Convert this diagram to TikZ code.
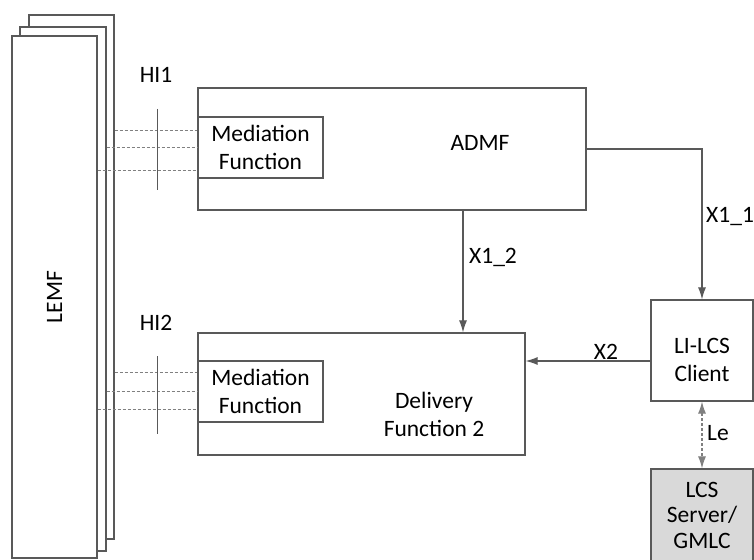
\documentclass[tikz,border=0pt]{standalone}
\usepackage{fontspec}
\setmainfont{Carlito}
\usepackage{xcolor}
\usepackage{tikz}
\usetikzlibrary{arrows.meta}
\definecolor{lineC}{HTML}{595959}
\definecolor{dashC}{HTML}{808080}
\definecolor{srvC}{HTML}{D9D9D9}

\begin{document}
\begin{tikzpicture}[x=1pt, y=-1pt,
    every node/.style={font=\fontsize{23.5}{28}\selectfont},
    box/.style={draw=lineC, line width=1.2pt, fill=white, inner sep=0pt, align=center},
    lbl/.style={inner sep=0pt, align=center},
    arr/.style={draw=lineC, line width=1.1pt, -{Latex[length=12pt,width=8pt]}},
    hiline/.style={draw=dashC, line width=1pt, dash pattern=on 3pt off 2pt},
    bar/.style={draw=lineC, line width=1pt}]
    \useasboundingbox (0,0) rectangle (754,559);
    % LEMF stack
    \node (lemfC) at (71.5,277) [box, minimum width=85pt, minimum height=524pt] {};
    \node (lemfB) at (63,289) [box, minimum width=86pt, minimum height=524pt] {};
    \node (lemfA) at (54.5,297) [box, minimum width=85pt, minimum height=522pt] {};
    \node (lemf) at (lemfA) [lbl, rotate=90] {LEMF};
    % ADMF and Delivery Function
    \node (admf) at (392,149) [box, minimum width=388pt, minimum height=122pt] {};
    \node (admfT) at (480,143) [lbl] {ADMF};
    \node (med1) at (260.5,147.5) [box, minimum width=125pt, minimum height=61pt] {Mediation\\Function};
    \node (dlv) at (361.5,394) [box, minimum width=327pt, minimum height=122pt] {};
    \node (dlvT) at (434,414) [lbl] {Delivery\\Function 2};
    \node (med2) at (260.5,391.5) [box, minimum width=125pt, minimum height=61pt] {Mediation\\Function};
    % LI-LCS side
    \node (lics) at (702,350.5) [box, minimum width=102pt, minimum height=101pt] {};
    \node (licsT) at (702,360) [lbl] {LI-LCS\\Client};
    \node (gmlc) at (702,519.5) [box, fill=srvC, minimum width=102pt, minimum height=101pt] {};
    \node (gmlcT) at (702,515) [lbl, font=\fontsize{23.5}{25.5}\selectfont] {LCS\\Server/\\GMLC};
    % HI interfaces
    \node (hi1) at (156,75) [lbl] {HI1};
    \node (hi2) at (156,323) [lbl] {HI2};
    \foreach \y/\n in {130/C,147/B,170/A} \draw[hiline] (lemf\n.east |- 0,\y) -- (med1.west |- 0,\y);
    \foreach \y/\n in {372/C,391/B,409/A} \draw[hiline] (lemf\n.east |- 0,\y) -- (med2.west |- 0,\y);
    \draw[bar] (157,109) -- (157,190);
    \draw[bar] (157,356) -- (157,434);
    % connectors
    \coordinate (x12) at (463,0);
    \coordinate (x2) at (0,361);
    \draw[arr] (admf.east |- 0,149) -| (lics.north);
    \draw[arr] (x12 |- admf.south) -- (x12 |- dlv.north);
    \draw[arr] (x2 -| lics.west) -- (x2 -| dlv.east);
    \draw[arr, {Latex[length=12pt,width=8pt]}-{Latex[length=12pt,width=8pt]}, draw=dashC, dash pattern=on 3pt off 2pt] (lics.south) -- (gmlc.north);
    \node (x11L) at (706,217) [lbl, anchor=west] {X1\_1};
    \node (x12L) at (493,257) [lbl] {X1\_2};
    \node (x2L) at (606,352) [lbl] {X2};
    \node (leL) at (707,433) [lbl, anchor=west] {Le};
\end{tikzpicture}
\end{document}
